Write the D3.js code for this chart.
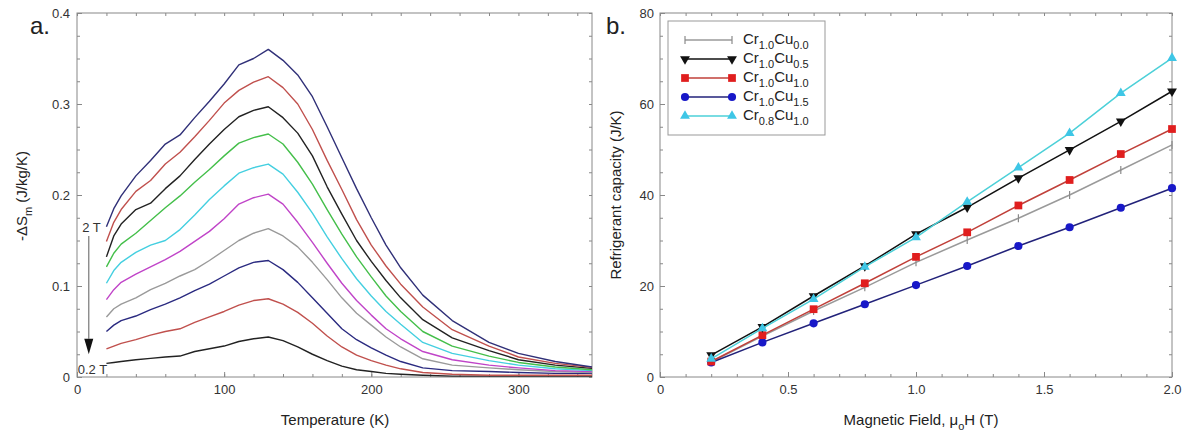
<!DOCTYPE html>
<html>
<head>
<meta charset="utf-8">
<script src="https://cdn.jsdelivr.net/npm/d3@7"></script>
<style>
  body { margin: 0; background: #fff; }
  svg { font-family: "Liberation Sans", Arial, sans-serif; }
</style>
</head>
<body>
<svg id="chart" width="1188" height="437"></svg>
<script>
// ---- panel a: -dS_m vs temperature, one curve per field (0.2 T .. 2 T)
const temps = [20, 25, 30, 40, 50, 60, 70, 80, 90, 100, 110, 120, 130, 140, 150, 160, 170, 180, 190, 200, 210, 220, 235, 255, 280, 300, 325, 350];
const s02 = [0.015, 0.016, 0.017, 0.019, 0.0205, 0.022, 0.023, 0.028, 0.031, 0.034, 0.039, 0.042, 0.044, 0.040, 0.033, 0.025, 0.018, 0.012, 0.008, 0.006, 0.004, 0.003, 0.002, 0.001, 0.001, 0.001, 0.001, 0.001];
const s04 = [0.031, 0.034, 0.037, 0.041, 0.046, 0.050, 0.053, 0.060, 0.066, 0.072, 0.079, 0.084, 0.086, 0.080, 0.071, 0.059, 0.045, 0.033, 0.024, 0.018, 0.013, 0.009, 0.005, 0.003, 0.002, 0.002, 0.002, 0.002];
const s06 = [0.050, 0.057, 0.062, 0.067, 0.074, 0.080, 0.087, 0.095, 0.102, 0.111, 0.120, 0.126, 0.128, 0.118, 0.104, 0.087, 0.070, 0.053, 0.041, 0.032, 0.024, 0.017, 0.010, 0.007, 0.006, 0.005, 0.004, 0.004];
const s08 = [0.066, 0.075, 0.080, 0.087, 0.096, 0.103, 0.111, 0.118, 0.128, 0.139, 0.150, 0.158, 0.163, 0.155, 0.143, 0.126, 0.107, 0.087, 0.070, 0.057, 0.044, 0.033, 0.020, 0.013, 0.010, 0.008, 0.006, 0.005];
const s10 = [0.085, 0.096, 0.104, 0.113, 0.121, 0.129, 0.138, 0.149, 0.160, 0.174, 0.190, 0.197, 0.201, 0.190, 0.170, 0.148, 0.125, 0.103, 0.084, 0.068, 0.053, 0.042, 0.028, 0.019, 0.013, 0.010, 0.007, 0.006];
const s12 = [0.103, 0.117, 0.126, 0.137, 0.145, 0.150, 0.162, 0.178, 0.195, 0.210, 0.224, 0.230, 0.234, 0.223, 0.203, 0.180, 0.154, 0.130, 0.108, 0.089, 0.072, 0.058, 0.038, 0.026, 0.018, 0.013, 0.009, 0.007];
const s14 = [0.121, 0.136, 0.146, 0.158, 0.172, 0.186, 0.199, 0.214, 0.228, 0.243, 0.257, 0.263, 0.267, 0.256, 0.236, 0.212, 0.184, 0.157, 0.132, 0.110, 0.089, 0.072, 0.050, 0.034, 0.023, 0.016, 0.011, 0.008];
const s16 = [0.132, 0.155, 0.168, 0.184, 0.191, 0.207, 0.221, 0.239, 0.256, 0.272, 0.286, 0.293, 0.297, 0.285, 0.268, 0.243, 0.209, 0.179, 0.150, 0.127, 0.106, 0.087, 0.063, 0.043, 0.029, 0.019, 0.013, 0.0095];
const s18 = [0.149, 0.170, 0.184, 0.204, 0.216, 0.234, 0.247, 0.264, 0.282, 0.301, 0.315, 0.324, 0.330, 0.318, 0.300, 0.272, 0.238, 0.206, 0.173, 0.145, 0.122, 0.102, 0.077, 0.052, 0.034, 0.022, 0.015, 0.0106];
const s20 = [0.165, 0.185, 0.199, 0.221, 0.238, 0.256, 0.266, 0.285, 0.303, 0.322, 0.343, 0.350, 0.360, 0.348, 0.332, 0.308, 0.275, 0.241, 0.207, 0.175, 0.145, 0.120, 0.090, 0.062, 0.038, 0.026, 0.017, 0.011];

const fieldSeries = [
  { values: s02, color: "#222222" },
  { values: s04, color: "#c0504d" },
  { values: s06, color: "#2a2a80" },
  { values: s08, color: "#9a9a9a" },
  { values: s10, color: "#c044c8" },
  { values: s12, color: "#44cfe0" },
  { values: s14, color: "#44bf4a" },
  { values: s16, color: "#222222" },
  { values: s18, color: "#c0504d" },
  { values: s20, color: "#303078" }
];

// ---- panel b: refrigerant capacity vs field
const fields = [0.2, 0.4, 0.6, 0.8, 1.0, 1.2, 1.4, 1.6, 1.8, 2.0];
const rcCr10Cu00 = [3.3, 9.0, 14.5, 19.7, 25.2, 30.1, 34.9, 40.0, 45.5, 51.0];
const rcCr10Cu05 = [4.8, 11.0, 17.8, 24.4, 31.4, 37.3, 43.7, 49.9, 56.2, 62.8];
const rcCr10Cu10 = [3.4, 9.2, 14.9, 20.6, 26.4, 31.8, 37.7, 43.3, 49.0, 54.5];
const rcCr10Cu15 = [3.2, 7.6, 11.8, 16.0, 20.2, 24.4, 28.8, 32.9, 37.2, 41.5];
const rcCr08Cu10 = [4.0, 10.7, 17.1, 24.2, 30.7, 38.5, 46.0, 53.6, 62.4, 70.1];

const rcSeries = [
  { cr: "1.0", cu: "0.0", values: rcCr10Cu00, line: "#9a9a9a", fill: "#8a8a8a", marker: "tick" },
  { cr: "1.0", cu: "0.5", values: rcCr10Cu05, line: "#111111", fill: "#111111", marker: "down" },
  { cr: "1.0", cu: "1.0", values: rcCr10Cu10, line: "#c0403a", fill: "#e01e1e", marker: "square" },
  { cr: "1.0", cu: "1.5", values: rcCr10Cu15, line: "#22227a", fill: "#1818c8", marker: "circle" },
  { cr: "0.8", cu: "1.0", values: rcCr08Cu10, line: "#4cd0d8", fill: "#3ec6e6", marker: "up" }
];
const drawOrder = [0, 3, 2, 1, 4];

const svg = d3.select("#chart");
const font = '"Liberation Sans", Arial, sans-serif';

function drawFrame(x, y, o) {
  const [x0, x1] = x.range();
  const [y0, y1] = y.range();
  const g = svg.append("g");
  const style = s => {
    s.select(".domain").remove();
    s.selectAll("line").attr("stroke", "#888");
    s.selectAll("text").attr("font-size", 13).attr("font-family", font).attr("fill", "#333");
  };
  g.append("g").attr("transform", `translate(0,${y0})`)
    .call(d3.axisBottom(x).tickValues(o.xMinor).tickSize(-3).tickFormat("")).call(style);
  g.append("g").attr("transform", `translate(0,${y0})`)
    .call(d3.axisBottom(x).tickValues(o.xMajor).tickSize(-5).tickPadding(8).tickFormat(o.xFmt)).call(style);
  g.append("g").attr("transform", `translate(0,${y1})`)
    .call(d3.axisTop(x).tickValues(o.xMinor).tickSize(-3).tickFormat("")).call(style);
  g.append("g").attr("transform", `translate(${x0},0)`)
    .call(d3.axisLeft(y).tickValues(o.yMinor).tickSize(-3).tickFormat("")).call(style);
  g.append("g").attr("transform", `translate(${x0},0)`)
    .call(d3.axisLeft(y).tickValues(o.yMajor).tickSize(-5).tickPadding(o.yPad).tickFormat(o.yFmt)).call(style);
  g.append("g").attr("transform", `translate(${x1},0)`)
    .call(d3.axisRight(y).tickValues(o.yMinor).tickSize(-3).tickFormat("")).call(style);
  g.append("rect")
    .attr("x", x0).attr("y", y1).attr("width", x1 - x0).attr("height", y0 - y1)
    .attr("fill", "none").attr("stroke", "#888").attr("stroke-width", 1);
}

// ================= panel a
const xa = d3.scaleLinear().domain([0, 350]).range([77, 592]);
const ya = d3.scaleLinear().domain([0, 0.4]).range([377, 13]);

drawFrame(xa, ya, {
  xMajor: [0, 100, 200, 300], xMinor: d3.range(0, 351, 20),
  yMajor: [0, 0.1, 0.2, 0.3, 0.4], yMinor: d3.range(0, 0.401, 0.025),
  xFmt: d => d, yFmt: d => d === 0 ? "0" : d.toFixed(1), yPad: 7
});

const lineA = d3.line().x((d, i) => xa(temps[i])).y(d => ya(d));
fieldSeries.forEach(s => {
  svg.append("path").attr("d", lineA(s.values))
    .attr("fill", "none").attr("stroke", s.color).attr("stroke-width", 1.4)
    .attr("stroke-linejoin", "round");
});

// field arrow 2 T -> 0.2 T
svg.append("line")
  .attr("x1", xa(8)).attr("x2", xa(8)).attr("y1", ya(0.155)).attr("y2", ya(0.042))
  .attr("stroke", "#777").attr("stroke-width", 1.2);
svg.append("path")
  .attr("d", `M${xa(8) - 4.5},${ya(0.042)}L${xa(8) + 4.5},${ya(0.042)}L${xa(8)},${ya(0.025)}Z`)
  .attr("fill", "#111");
svg.append("text").attr("x", xa(3.5)).attr("y", ya(0.159))
  .attr("font-size", 13).attr("fill", "#333").text("2 T");
svg.append("text").attr("x", xa(0.5)).attr("y", ya(0.003))
  .attr("font-size", 13).attr("fill", "#333").text("0.2 T");

svg.append("text").attr("x", 30).attr("y", 34).attr("font-size", 24).attr("fill", "#222").text("a.");
svg.append("text").attr("x", 335).attr("y", 425).attr("text-anchor", "middle")
  .attr("font-size", 15).attr("fill", "#222").text("Temperature (K)");
const yla = svg.append("text").attr("transform", "translate(27,196) rotate(-90)")
  .attr("text-anchor", "middle").attr("font-size", 15).attr("fill", "#222");
yla.append("tspan").text("-\u0394S");
yla.append("tspan").attr("font-size", 11).attr("dy", 5).text("m");
yla.append("tspan").attr("dy", -5).text("  (J/kg/K)");

// ================= panel b
const xb = d3.scaleLinear().domain([0, 2]).range([660, 1172]);
const yb = d3.scaleLinear().domain([0, 80]).range([377, 13]);

drawFrame(xb, yb, {
  xMajor: [0, 0.5, 1, 1.5, 2], xMinor: d3.range(0, 2.01, 0.1),
  yMajor: [0, 20, 40, 60, 80], yMinor: d3.range(0, 81, 5),
  xFmt: d => d === 0 ? "0" : d.toFixed(1), yFmt: d => d, yPad: 6
});

function marker(g, type, cx, cy, fill) {
  if (type === "tick") {
    g.append("line").attr("x1", cx).attr("x2", cx).attr("y1", cy - 4).attr("y2", cy + 4)
      .attr("stroke", fill).attr("stroke-width", 1.2);
    return;
  }
  const sym = { square: d3.symbolSquare, circle: d3.symbolCircle, up: d3.symbolTriangle, down: d3.symbolTriangle }[type];
  const size = { square: 60, circle: 52, up: 42, down: 42 }[type];
  g.append("path").attr("d", d3.symbol(sym, size)())
    .attr("transform", `translate(${cx},${cy})` + (type === "down" ? " rotate(180)" : ""))
    .attr("fill", fill);
}

const lineB = d3.line().x((d, i) => xb(fields[i])).y(d => yb(d));
drawOrder.forEach(k => {
  const s = rcSeries[k];
  const g = svg.append("g");
  g.append("path").attr("d", lineB(s.values))
    .attr("fill", "none").attr("stroke", s.line).attr("stroke-width", 1.5);
  s.values.forEach((v, i) => marker(g, s.marker, xb(fields[i]), yb(v), s.fill));
});

// legend
const lg = svg.append("g").attr("transform", "translate(668,21)");
lg.append("rect").attr("width", 157).attr("height", 114)
  .attr("fill", "#fff").attr("stroke", "#999");
rcSeries.forEach((s, i) => {
  const y = 19 + i * 19;
  const row = lg.append("g");
  row.append("line").attr("x1", 17).attr("x2", 64).attr("y1", y).attr("y2", y)
    .attr("stroke", s.line).attr("stroke-width", 1.5);
  marker(row, s.marker, 17, y, s.fill);
  marker(row, s.marker, 64, y, s.fill);
  const t = row.append("text").attr("x", 75).attr("y", y + 4)
    .attr("font-size", 15).attr("fill", "#222");
  t.append("tspan").text("Cr");
  t.append("tspan").attr("font-size", 11).attr("dy", 5).text(s.cr);
  t.append("tspan").attr("dy", -5).text("Cu");
  t.append("tspan").attr("font-size", 11).attr("dy", 5).text(s.cu);
});

svg.append("text").attr("x", 606).attr("y", 34).attr("font-size", 24).attr("fill", "#222").text("b.");
const xlb = svg.append("text").attr("x", 921).attr("y", 425).attr("text-anchor", "middle")
  .attr("font-size", 15).attr("fill", "#222");
xlb.append("tspan").text("Magnetic Field, \u03bc");
xlb.append("tspan").attr("font-size", 11).attr("dy", 5).text("o");
xlb.append("tspan").attr("dy", -5).text("H (T)");
svg.append("text").attr("transform", "translate(621,195) rotate(-90)")
  .attr("text-anchor", "middle").attr("font-size", 15).attr("fill", "#222")
  .text("Refrigerant capacity (J/K)");
</script>
</body>
</html>
